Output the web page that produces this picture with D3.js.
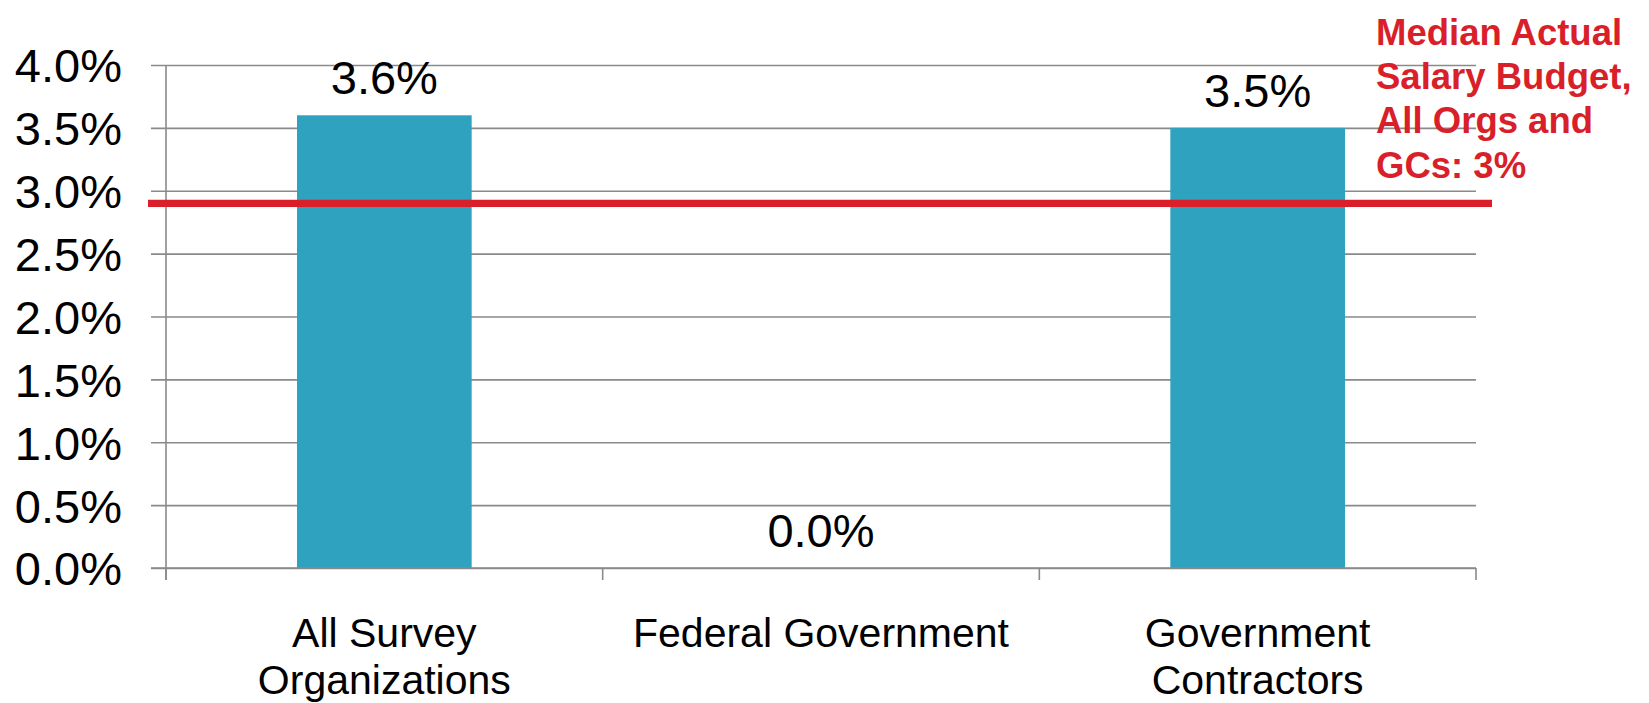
<!DOCTYPE html>
<html>
<head>
<meta charset="utf-8">
<script src="https://cdn.jsdelivr.net/npm/d3@7"></script>
<style>
  html, body { margin: 0; padding: 0; background: #fff; }
  svg { display: block; font-family: "Liberation Sans", Arial, Helvetica, sans-serif; }
</style>
</head>
<body>
<svg id="chart" width="1649" height="703"></svg>
<script>
// ---- data ----
const categories = ["All Survey Organizations", "Federal Government", "Government Contractors"];
const categoryLines = [["All Survey", "Organizations"], ["Federal Government"], ["Government", "Contractors"]];
const values = [0.036, 0.000, 0.035];
const valueLabels = ["3.6%", "0.0%", "3.5%"];
const yTicks = [0, 0.005, 0.01, 0.015, 0.02, 0.025, 0.03, 0.035, 0.04];
const medianValue = 0.029;
const annotationLines = ["Median Actual", "Salary Budget,", "All Orgs and", "GCs: 3%"];

// ---- layout ----
const svg = d3.select("#chart");
const plotLeft = 166, plotRight = 1476, plotTop = 65, plotBottom = 568;
const gridColor = "#8a8a8a";
const barColor = "#2ea2bf";
const red = "#d91f29";

const y = d3.scaleLinear().domain([0, 0.04]).range([plotBottom, plotTop]);
const x = d3.scaleBand().domain(categories).range([plotLeft, plotRight])
  .paddingInner(0.6).paddingOuter(0.3);

// gridlines + y axis (ticks extend left as gridlines)
const yAxis = d3.axisLeft(y).tickValues(yTicks)
  .tickSize(-(plotRight - plotLeft))
  .tickSizeOuter(0)
  .tickFormat(d3.format(".1%"));
const gy = svg.append("g").attr("transform", `translate(${plotLeft},0)`).call(yAxis);
gy.select(".domain").remove();
gy.selectAll(".tick line").attr("stroke", gridColor).attr("stroke-width", 1.6)
  .attr("x1", -15);
gy.selectAll(".tick text").attr("x", -44).attr("font-size", 47).attr("fill", "#000")
  .attr("font-family", "Liberation Sans, Arial, sans-serif").attr("dy", "0.36em");

// vertical y axis line
svg.append("line").attr("x1", plotLeft).attr("x2", plotLeft)
  .attr("y1", y(0.04)).attr("y2", y(0) + 12)
  .attr("stroke", gridColor).attr("stroke-width", 1.6);

// category boundary ticks on the x axis
const step = x.step();
const bounds = categories.map(c => x(c) - step * x.paddingInner() / 2 - (c === categories[0] ? step * (x.paddingOuter() - x.paddingInner() / 2) : 0));
bounds.push(plotRight);
svg.append("g").selectAll("line").data(bounds).join("line")
  .attr("x1", d => d).attr("x2", d => d)
  .attr("y1", y(0)).attr("y2", y(0) + 12)
  .attr("stroke", gridColor).attr("stroke-width", 1.6);

// bars
svg.append("g").selectAll("rect").data(values).join("rect")
  .attr("x", (d, i) => x(categories[i]))
  .attr("width", x.bandwidth())
  .attr("y", d => y(d))
  .attr("height", d => y(0) - y(d))
  .attr("fill", barColor);

// baseline axis drawn over bars
svg.append("line").attr("x1", plotLeft - 15).attr("x2", plotRight)
  .attr("y1", y(0)).attr("y2", y(0))
  .attr("stroke", gridColor).attr("stroke-width", 1.6);

// value labels
svg.append("g").selectAll("text").data(values).join("text")
  .attr("x", (d, i) => x(categories[i]) + x.bandwidth() / 2)
  .attr("y", d => y(d) - 21)
  .attr("text-anchor", "middle")
  .attr("font-size", 47)
  .attr("fill", "#000")
  .text((d, i) => valueLabels[i]);

// category labels
const catG = svg.append("g");
categoryLines.forEach((lines, i) => {
  const t = catG.append("text")
    .attr("x", x(categories[i]) + x.bandwidth() / 2)
    .attr("y", 647)
    .attr("text-anchor", "middle")
    .attr("font-size", 41)
    .attr("fill", "#000");
  lines.forEach((ln, j) => {
    t.append("tspan").attr("x", x(categories[i]) + x.bandwidth() / 2)
      .attr("y", 647 + j * 47).text(ln);
  });
});

// median line
svg.append("line")
  .attr("x1", 148).attr("x2", 1492)
  .attr("y1", y(medianValue)).attr("y2", y(medianValue))
  .attr("stroke", red).attr("stroke-width", 7.3);

// annotation
const ann = svg.append("text").attr("font-size", 36.5).attr("font-weight", "bold").attr("fill", red);
annotationLines.forEach((ln, j) => {
  ann.append("tspan").attr("x", 1376).attr("y", 45 + j * 44.2).text(ln);
});
</script>
</body>
</html>
